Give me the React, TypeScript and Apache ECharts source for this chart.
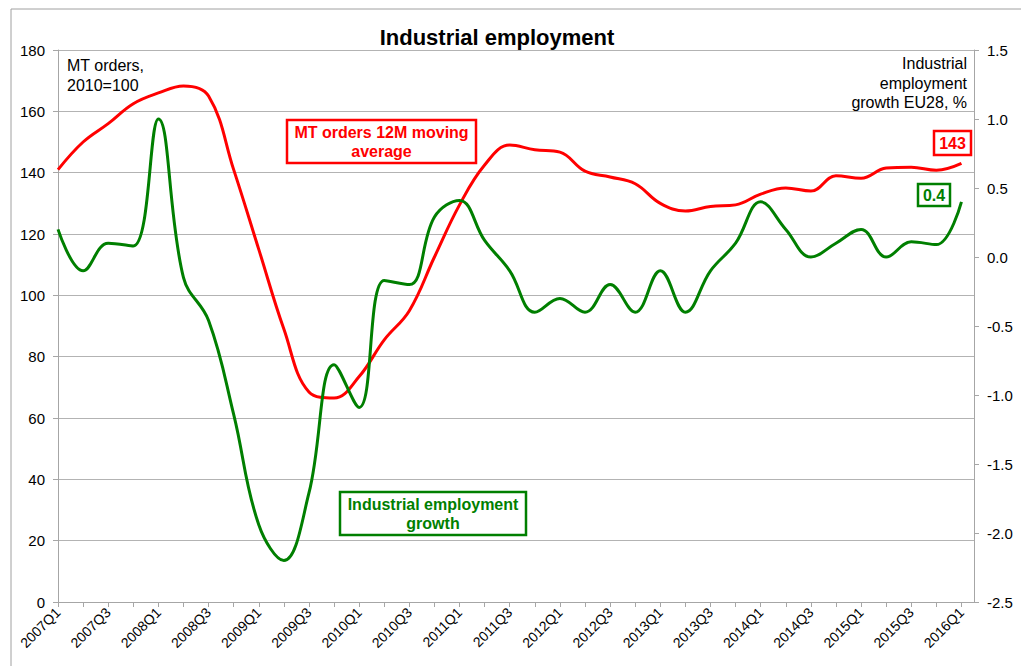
import React, { useEffect, useRef } from "react";
import * as echarts from "echarts";

const quarters: string[] = [
  "2007Q1", "2007Q2", "2007Q3", "2007Q4",
  "2008Q1", "2008Q2", "2008Q3", "2008Q4",
  "2009Q1", "2009Q2", "2009Q3", "2009Q4",
  "2010Q1", "2010Q2", "2010Q3", "2010Q4",
  "2011Q1", "2011Q2", "2011Q3", "2011Q4",
  "2012Q1", "2012Q2", "2012Q3", "2012Q4",
  "2013Q1", "2013Q2", "2013Q3", "2013Q4",
  "2014Q1", "2014Q2", "2014Q3", "2014Q4",
  "2015Q1", "2015Q2", "2015Q3", "2015Q4",
  "2016Q1",
];

// MT orders 12M moving average, 2010=100 (left axis)
const mtOrders: number[] = [
  141, 150, 156, 162.5, 166, 168.3, 165, 141, 115, 89, 68.5, 66.5, 73.5,
  85.5, 95, 112.5, 129.5, 142.5, 149, 147.5, 146.7, 140.5, 138.6, 136.4,
  130, 127.5, 129, 129.5, 133, 135, 134, 139, 138.2, 141.5, 141.8, 140.8, 143,
];

// Industrial employment growth EU28, % (right axis)
const empGrowth: number[] = [
  0.2, -0.1, 0.1, 0.08, 1.0, -0.15, -0.46, -1.14, -1.94, -2.2, -1.71, -0.78,
  -1.09, -0.17, -0.2, 0.29, 0.41, 0.12, -0.1, -0.4, -0.3, -0.4, -0.2, -0.4,
  -0.1, -0.4, -0.1, 0.1, 0.4, 0.2, 0.0, 0.1, 0.2, 0.0, 0.11, 0.09, 0.4,
];

const leftTicks = { min: 0, max: 180, interval: 20 };
const rightTicks = { min: -2.5, max: 1.5, interval: 0.5 };

const FONT = '"Liberation Sans", Arial, sans-serif';
const RED = "#ff0000";
const GREEN = "#007f00";
const AXIS = "#a6a6a6";
const GRID = "#b3b3b3";

export default function App() {
  const ref = useRef<HTMLDivElement>(null);

  useEffect(() => {
    if (!ref.current) return;
    const chart = echarts.init(ref.current, null, { renderer: "svg" });

    const redData = mtOrders.map((v, i) => [i, v]);
    const greenData = empGrowth.map((v, i) => [i, v]);

    const option: any = {
      animation: false,
      backgroundColor: "#ffffff",
      textStyle: { fontFamily: FONT },
      grid: { left: 58, right: 47, top: 50, bottom: 64, containLabel: false },
      xAxis: {
        type: "value",
        min: 0,
        max: quarters.length - 0.5,
        interval: 1,
        axisLine: { show: true, onZero: false, lineStyle: { color: AXIS, width: 1 } },
        axisTick: { show: true, length: 5, lineStyle: { color: AXIS } },
        splitLine: { show: false },
        axisLabel: {
          rotate: 45,
          fontSize: 14,
          color: "#000",
          fontFamily: FONT,
          margin: 8,
          showMaxLabel: false,
          formatter: (v: number) =>
            Number.isInteger(v) && v % 2 === 0 && quarters[v] ? quarters[v] : "",
        },
      },
      yAxis: [
        {
          type: "value",
          position: "left",
          min: leftTicks.min,
          max: leftTicks.max,
          interval: leftTicks.interval,
          axisLine: { show: true, onZero: false, lineStyle: { color: AXIS } },
          axisTick: { show: true, length: 5, lineStyle: { color: AXIS } },
          splitLine: { show: true, lineStyle: { color: GRID, width: 1 } },
          axisLabel: { fontSize: 15, color: "#000", margin: 13, fontFamily: FONT },
        },
        {
          type: "value",
          position: "right",
          min: rightTicks.min,
          max: rightTicks.max,
          interval: rightTicks.interval,
          axisLine: { show: true, onZero: false, lineStyle: { color: AXIS } },
          axisTick: { show: true, length: 5, lineStyle: { color: AXIS } },
          splitLine: { show: false },
          axisLabel: {
            fontSize: 15,
            color: "#000",
            margin: 13,
            fontFamily: FONT,
            formatter: (v: number) => v.toFixed(1),
          },
        },
      ],
      series: [
        {
          name: "MT orders 12M moving average",
          type: "line",
          yAxisIndex: 0,
          data: redData,
          smooth: 0.4,
          showSymbol: false,
          lineStyle: { color: RED, width: 3 },
          itemStyle: { color: RED },
          z: 3,
        },
        {
          name: "Industrial employment growth",
          type: "line",
          yAxisIndex: 1,
          data: greenData,
          smooth: 0.4,
          showSymbol: false,
          lineStyle: { color: GREEN, width: 3 },
          itemStyle: { color: GREEN },
          z: 4,
        },
      ],
      graphic: [
        {
          type: "rect",
          silent: true,
          z: -10,
          shape: { x: 11, y: 9, width: 1040, height: 700 },
          style: { fill: "none", stroke: "#a0a0a0", lineWidth: 1 },
        },
        {
          type: "text",
          x: 497,
          y: 37,
          style: {
            text: "Industrial employment",
            font: `bold 22px ${FONT}`,
            fill: "#000",
            align: "center",
            verticalAlign: "middle",
          },
        },
        {
          type: "text",
          x: 67,
          y: 56,
          style: {
            text: "MT orders,\n2010=100",
            font: `16px ${FONT}`,
            lineHeight: 19.5,
            fill: "#000",
            align: "left",
            verticalAlign: "top",
          },
        },
        {
          type: "text",
          x: 967,
          y: 54,
          style: {
            text: "Industrial\nemployment\ngrowth EU28, %",
            font: `16px ${FONT}`,
            lineHeight: 19.5,
            fill: "#000",
            align: "right",
            verticalAlign: "top",
          },
        },
        {
          type: "rect",
          shape: { x: 287, y: 120, width: 189, height: 43 },
          style: { fill: "#fff", stroke: RED, lineWidth: 2.5 },
          z: 10,
        },
        {
          type: "text",
          x: 381.5,
          y: 142,
          z: 11,
          style: {
            text: "MT orders 12M moving\naverage",
            font: `bold 16px ${FONT}`,
            lineHeight: 19,
            fill: RED,
            align: "center",
            verticalAlign: "middle",
          },
        },
        {
          type: "rect",
          shape: { x: 340, y: 492, width: 186, height: 43 },
          style: { fill: "#fff", stroke: GREEN, lineWidth: 2.5 },
          z: 10,
        },
        {
          type: "text",
          x: 433,
          y: 514,
          z: 11,
          style: {
            text: "Industrial employment\ngrowth",
            font: `bold 16px ${FONT}`,
            lineHeight: 19,
            fill: GREEN,
            align: "center",
            verticalAlign: "middle",
          },
        },
        {
          type: "rect",
          shape: { x: 934, y: 131, width: 37, height: 24 },
          style: { fill: "#fff", stroke: RED, lineWidth: 2.5 },
          z: 10,
        },
        {
          type: "text",
          x: 952.5,
          y: 143.5,
          z: 11,
          style: {
            text: String(Math.round(mtOrders[mtOrders.length - 1])),
            font: `bold 16px ${FONT}`,
            fill: RED,
            align: "center",
            verticalAlign: "middle",
          },
        },
        {
          type: "rect",
          shape: { x: 918, y: 184, width: 32, height: 22 },
          style: { fill: "#fff", stroke: GREEN, lineWidth: 2.5 },
          z: 10,
        },
        {
          type: "text",
          x: 934,
          y: 195.5,
          z: 11,
          style: {
            text: empGrowth[empGrowth.length - 1].toFixed(1),
            font: `bold 16px ${FONT}`,
            fill: GREEN,
            align: "center",
            verticalAlign: "middle",
          },
        },
      ],
    };

    chart.setOption(option);
    return () => chart.dispose();
  }, []);

  return (
    <div
      ref={ref}
      style={{ position: "fixed", left: 0, top: 0, width: 1021, height: 666 }}
    />
  );
}
